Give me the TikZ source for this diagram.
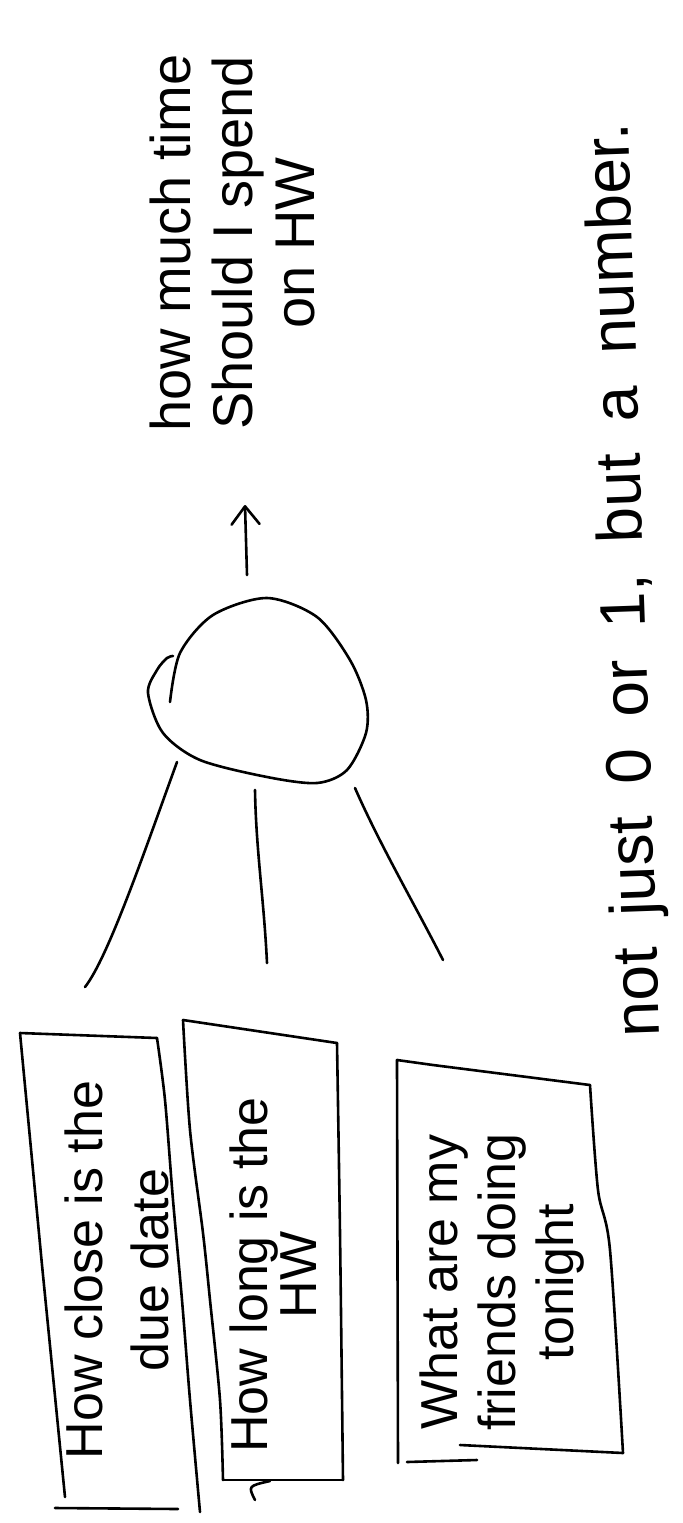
\documentclass[tikz,border=0pt]{standalone}
\usepackage{fontspec}
\setmainfont{Liberation Sans}
\usetikzlibrary{arrows.meta}

\tikzset{
  trazo/.style={line width=1.3pt, line cap=round, line join=round},
  texto/.style={rotate=90, align=center, inner sep=0pt},
}

\begin{document}
\begin{tikzpicture}[x=0.5pt, y=-0.5pt]
        \useasboundingbox (0,0) rectangle (683,1523);
        \clip (0,0) rectangle (683,1523);

        % Definir los puntos de las conexiones
        \coordinate (neu1) at (177,762);
        \coordinate (neu2) at (255,790);
        \coordinate (neu3) at (355,788);
        \coordinate (ent1) at (85,987);
        \coordinate (ent2) at (267,963);
        \coordinate (ent3) at (443,960);
        \coordinate (neuout) at (247,575);
        \coordinate (sal) at (245,505);

        % Dibujar la neurona
        \draw[trazo] plot[smooth] coordinates {(170,702) (180,653) (213,615) (267,598) (317,617) (350,660) (366,700) (366,733) (347,770) (317,783) (267,777) (200,760) (163,733) (148,693) (157,670) (167,658) (173,656)};

        % Dibujar las entradas y la salida
        \draw[trazo] (neu1) .. controls (145,850) and (108,958) .. (ent1);
        \draw[trazo] (neu2) .. controls (256,850) and (264,900) .. (ent2);
        \draw[trazo] (neu3) .. controls (380,845) and (415,905) .. (ent3);
        \draw[trazo, -{Straight Barb[length=9pt,width=14pt,round]}] (neuout) -- (sal);

        % Dibujar las cajas
        \draw[trazo] (157,1038) -- (20,1033) -- (42,1265) -- (65,1497);
        \draw[trazo] plot[smooth] coordinates {(157,1038) (165,1100) (173,1200) (182,1300) (190,1400) (200,1512)};
        \draw[trazo] (55,1508) -- (178,1509);

        \draw[trazo] plot[smooth] coordinates {(183,1020) (190,1130) (203,1233) (210,1300) (220,1400) (223,1480)};
        \draw[trazo] (183,1020) -- (337,1043);
        \draw[trazo] plot[smooth] coordinates {(337,1043) (340,1233) (343,1480)};
        \draw[trazo] (343,1480) -- (223,1480);
        \draw[trazo] (270,1481) .. controls (248,1486) .. (255,1500);

        \draw[trazo] (397,1060) -- (433,1065) -- (590,1085);
        \draw[trazo] (397,1060) -- (398,1463);
        \draw[trazo] plot[smooth] coordinates {(590,1085) (598,1190) (610,1250) (623,1453)};
        \draw[trazo] (623,1453) -- (460,1445);
        \draw[trazo] (407,1462) -- (477,1460);

        % Textos
        \node[texto, font=\fontsize{26}{33}\selectfont] (caja1) at (117,1270) {How close is the\\due date};
        \node[texto, font=\fontsize{26}{21}\selectfont] (caja2) at (273,1275) {How long is the\\HW};
        \node[texto, font=\fontsize{26}{29}\selectfont] (caja3) at (502,1282) {What are my\\friends doing\\tonight};
        \node[texto, font=\fontsize{28}{31}\selectfont] (salida) at (232,243) {how much time\\Should I spend\\on HW};
        \node[texto, rotate=2, anchor=base east, font=\fontsize{32}{40}\selectfont] (nota) at (628,122) {\spaceskip=0.5em\relax not just 0 or 1, but a number.};

    \end{tikzpicture}
\end{document}
